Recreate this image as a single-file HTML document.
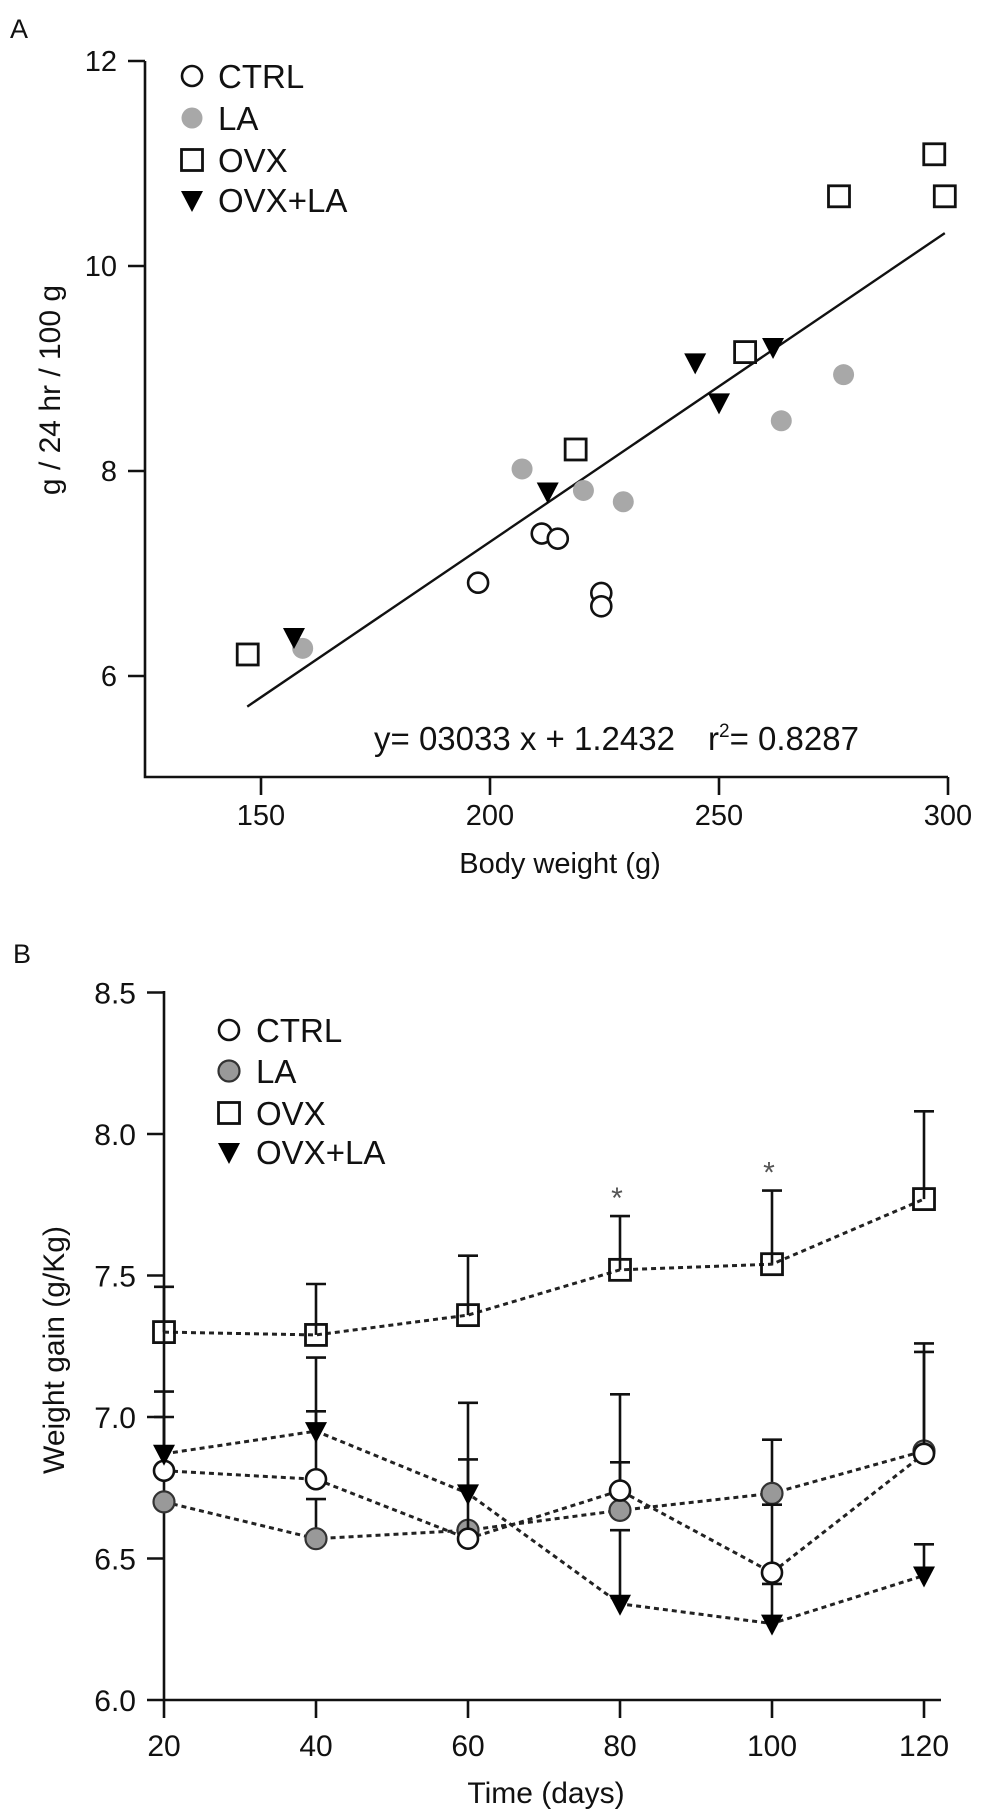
<!DOCTYPE html>
<html><head><meta charset="utf-8"><style>
html,body{margin:0;padding:0;background:#fff;}
svg{display:block;font-family:"Liberation Sans",Arial,sans-serif;}
</style></head><body>
<svg id="fig" width="987" height="1820" viewBox="0 0 987 1820" xmlns="http://www.w3.org/2000/svg">
<g id="pa"></g>
<g id="pb"></g>
</svg>
<script>
// ---------- Panel A data ----------
const aXTicks = [150, 200, 250, 300];
const aYTicks = [6, 8, 10, 12];
const ctrlX = [197.4, 211.3, 214.8, 224.3, 224.3];
const ctrlY = [6.91, 7.39, 7.34, 6.81, 6.68];
const laX = [159.1, 207.0, 220.4, 229.1, 263.6, 277.2];
const laY = [6.27, 8.02, 7.81, 7.70, 8.49, 8.94];
const ovxX = [147.1, 218.7, 255.7, 276.2, 297.0, 299.3];
const ovxY = [6.21, 8.21, 9.16, 10.68, 11.09, 10.68];
const ovxlaX = [157.2, 212.6, 244.8, 250.0, 261.8];
const ovxlaY = [6.38, 7.80, 9.06, 8.67, 9.21];
const fitSlope = 0.03033;
const fitIntercept = 1.2432;
const fitRange = [147, 299.3];

// ---------- Panel B data ----------
const bDays = [20, 40, 60, 80, 100, 120];
const bYTicks = [6.0, 6.5, 7.0, 7.5, 8.0, 8.5];
const bCtrl = [6.81, 6.78, 6.57, 6.74, 6.45, 6.87];
const bCtrlErr = [7.00, 7.02, 6.85, 6.84, 6.69, 7.26];
const bLa = [6.70, 6.57, 6.60, 6.67, 6.73, 6.88];
const bLaErr = [null, 6.71, 6.60, 7.08, 6.92, 7.23];
const bOvx = [7.30, 7.29, 7.36, 7.52, 7.54, 7.77];
const bOvxErr = [7.46, 7.47, 7.57, 7.71, 7.80, 8.08];
const bOvxla = [6.87, 6.95, 6.73, 6.34, 6.27, 6.44];
const bOvxlaErr = [7.09, 7.21, 7.05, 6.60, 6.41, 6.55];
const bStars = [80, 100];

const NS = "http://www.w3.org/2000/svg";
function mk(parent, tag, attrs) {
  const e = document.createElementNS(NS, tag);
  for (const k in attrs) e.setAttribute(k, attrs[k]);
  parent.appendChild(e);
  return e;
}
function txt(parent, s, x, y, size, anchor, extra) {
  const t = mk(parent, "text", Object.assign({x: x, y: y, "font-size": size, "text-anchor": anchor || "start", fill: "#111"}, extra || {}));
  t.textContent = s;
  return t;
}
function marker(g, type, x, y, lightLA) {
  let e;
  if (type === "ctrl") e = mk(g, "circle", {cx: x, cy: y, r: 10, fill: "#fff", stroke: "#111", "stroke-width": 2.6});
  else if (type === "la") e = lightLA ? mk(g, "circle", {cx: x, cy: y, r: 10.5, fill: "#a8a8a8"})
                                     : mk(g, "circle", {cx: x, cy: y, r: 10.5, fill: "#999", stroke: "#333", "stroke-width": 2.2});
  else if (type === "ovx") e = mk(g, "rect", {x: x - 10.5, y: y - 10.5, width: 21, height: 21, fill: "#fff", "fill-opacity": lightLA ? 1 : 0, stroke: "#111", "stroke-width": 2.8});
  else e = mk(g, "path", {d: "M" + (x - 11) + "," + (y - 9) + "L" + (x + 11) + "," + (y - 9) + "L" + x + "," + (y + 12) + "Z", fill: "#000"});
  return e;
}

// ---------- Panel A ----------
const pa = document.getElementById("pa");
const ax = v => 261 + (v - 150) * 4.58;
const ay = v => 676 - (v - 6) * 102.5;
let e;
e = txt(pa, "A", 10, 38, 27, "start");


e = mk(pa, "path", {d: "M145,61V777H948", fill: "none", stroke: "#111", "stroke-width": 2.6});


aYTicks.forEach(v => {
  const l = mk(pa, "line", {x1: 128, x2: 145, y1: ay(v), y2: ay(v), stroke: "#111", "stroke-width": 2.6});
  
  
  const t = txt(pa, String(v), 117, ay(v) + 10, 29, "end");
  
  
});
aXTicks.forEach(v => {
  const l = mk(pa, "line", {x1: ax(v), x2: ax(v), y1: 777, y2: 795, stroke: "#111", "stroke-width": 2.6});
  
  
  const t = txt(pa, String(v), ax(v), 825, 29, "middle");
  
  
});
e = txt(pa, "Body weight (g)", 560, 873, 29, "middle");


e = txt(pa, "g / 24 hr / 100 g", 0, 0, 30, "middle", {transform: "translate(60,390) rotate(-90)"});


e = mk(pa, "line", {x1: ax(fitRange[0]), y1: ay(fitSlope * fitRange[0] + fitIntercept), x2: ax(fitRange[1]), y2: ay(fitSlope * fitRange[1] + fitIntercept), stroke: "#111", "stroke-width": 2.4});


e = txt(pa, "y= 03033 x + 1.2432", 374, 750, 33, "start");


e = txt(pa, "r", 708, 750, 33, "start");


const ts = mk(e, "tspan", {"font-size": 19, dy: -13}); ts.textContent = "2";
const ts2 = mk(e, "tspan", {dy: 13}); ts2.textContent = "= 0.8287";

function scatter(xs, ys, type, name) {
  xs.forEach((v, i) => {
    const m = marker(pa, type, ax(v), ay(ys[i]), true);
    
    
  });
}
scatter(laX, laY, "la", "la-point");
scatter(ovxX, ovxY, "ovx", "ovx-point");
scatter(ctrlX, ctrlY, "ctrl", "ctrl-point");
scatter(ovxlaX, ovxlaY, "ovxla", "ovx-la-point");

function legend(g, x, ys, tx, size, light, prefix) {
  const names = ["CTRL", "LA", "OVX", "OVX+LA"];
  const types = ["ctrl", "la", "ovx", "ovxla"];
  names.forEach((n, i) => {
    const m = marker(g, types[i], x, ys[i], light);
    
    
    const t = txt(g, n, tx, ys[i] + size * 0.36, size, "start");
    
    
  });
}
legend(pa, 192, [76, 118, 160, 200], 218, 33, true, "a");

// ---------- Panel B ----------
const pb = document.getElementById("pb");
const bx = v => 164 + (v - 20) * 7.6;
const by = v => 1700 - (v - 6) * 283;
e = txt(pb, "B", 13, 963, 27, "start");


e = mk(pb, "path", {d: "M164,991V1700H941", fill: "none", stroke: "#111", "stroke-width": 2.6});


bYTicks.forEach(v => {
  const l = mk(pb, "line", {x1: 147, x2: 164, y1: by(v), y2: by(v), stroke: "#111", "stroke-width": 2.6});
  
  
  const t = txt(pb, v.toFixed(1), 136, by(v) + 11, 30, "end");
  
  
});
bDays.forEach(v => {
  const l = mk(pb, "line", {x1: bx(v), x2: bx(v), y1: 1700, y2: 1718, stroke: "#111", "stroke-width": 2.6});
  
  
  const t = txt(pb, String(v), bx(v), 1756, 30, "middle");
  
  
});
e = txt(pb, "Time (days)", 546, 1803, 30, "middle");


e = txt(pb, "Weight gain (g/Kg)", 0, 0, 30, "middle", {transform: "translate(64,1350) rotate(-90)"});



function series(vals, errs, type, name) {
  errs.forEach((ev, i) => {
    if (ev === null) return;
    const x = bx(bDays[i]);
    const l = mk(pb, "line", {x1: x, x2: x, y1: by(vals[i]), y2: by(ev), stroke: "#111", "stroke-width": 2.6});
    
    
    const c = mk(pb, "line", {x1: x - 10, x2: x + 10, y1: by(ev), y2: by(ev), stroke: "#111", "stroke-width": 2.6});
    
    
  });
  const d = vals.map((v, i) => (i ? "L" : "M") + bx(bDays[i]) + "," + by(v)).join("");
  const p = mk(pb, "path", {d: d, fill: "none", stroke: "#222", "stroke-width": 3, "stroke-dasharray": "5,4"});
  
  
  vals.forEach((v, i) => {
    const m = marker(pb, type, bx(bDays[i]), by(v), false);
    
    
  });
}
series(bOvx, bOvxErr, "ovx", "ovx");
series(bLa, bLaErr, "la", "la");
series(bCtrl, bCtrlErr, "ctrl", "ctrl");
series(bOvxla, bOvxlaErr, "ovxla", "ovx-la");
bStars.forEach(d => {
  const i = bDays.indexOf(d);
  const t = txt(pb, "*", bx(d) - 3, by(bOvxErr[i]) - 8, 30, "middle", {fill: "#555"});
  
  
});
legend(pb, 229, [1030, 1071, 1113, 1152], 256, 33, false, "b");
</script>
</body></html>
